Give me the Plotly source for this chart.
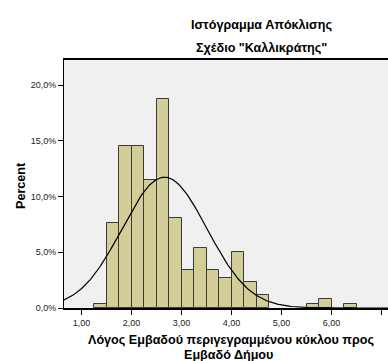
import numpy as np
import plotly.graph_objects as go

# bin centres (width 0.25) and percent of cases per bin
bin_centers = [1.375, 1.625, 1.875, 2.125, 2.375, 2.625, 2.875, 3.125, 3.375,
               3.625, 3.875, 4.125, 4.375, 4.625, 5.625, 5.875, 6.375]
percents = [0.38, 7.66, 14.56, 14.56, 11.49, 18.77, 8.05, 3.45, 5.36,
            3.45, 2.68, 4.98, 2.30, 1.15, 0.38, 0.77, 0.38]
bin_width = 0.25

# fitted normal curve
mean = 2.66
sd = 0.85

x_ticks = [1, 2, 3, 4, 5, 6, 7]
x_labels = ["1,00", "2,00", "3,00", "4,00", "5,00", "6,00", "7,00"]
y_ticks = [0, 5, 10, 15, 20]
y_labels = ["0,0%", "5,0%", "10,0%", "15,0%", "20,0%"]

font = "Liberation Sans, Arial, sans-serif"

curve_x = np.linspace(0.65, 7.13, 300)
curve_y = 100 * bin_width / (sd * np.sqrt(2 * np.pi)) * np.exp(-0.5 * ((curve_x - mean) / sd) ** 2)

fig = go.Figure()
fig.add_trace(go.Bar(
    x=bin_centers, y=percents, width=bin_width,
    marker=dict(color="#D3CE97", line=dict(color="#3a3a3a", width=1)),
))
fig.add_trace(go.Scatter(
    x=curve_x, y=curve_y, mode="lines",
    line=dict(color="black", width=1.2),
))

W, L, T, B = 388, 64, 60, 53
pw, ph = W - L, 361 - T - B


def px(x):
    return (x - L) / pw


def py(y):
    return (361 - B - y) / ph


fig.update_layout(
    width=388, height=361,
    margin=dict(l=L, r=0, t=T, b=B),
    paper_bgcolor="white",
    plot_bgcolor="#F0F0F0",
    showlegend=False,
    font=dict(family=font, size=9, color="#222"),
    bargap=0,
)
fig.update_xaxes(
    range=[0.65, 7.13], tickvals=x_ticks, ticktext=x_labels,
    ticks="outside", ticklen=5, tickcolor="black",
    showline=True, linecolor="black", linewidth=1.7, mirror=True,
    showgrid=False, zeroline=False,
)
fig.update_yaxes(
    range=[0, 22.25], tickvals=y_ticks, ticktext=y_labels,
    ticks="outside", ticklen=5, tickcolor="black",
    showline=True, linecolor="black", linewidth=1,
    showgrid=False, zeroline=False,
)

title_font = dict(size=12.6, family=font, color="black")
texts = [
    ("<b>Ιστόγραμμα Απόκλισης</b>", 261, 25, 0),
    ("<b>Σχέδιο \"Καλλικράτης\"</b>", 261, 48, 0),
    ("<b>Percent</b>", 21, 186, -90),
    ("<b>Λόγος Εμβαδού περιγεγραμμένου κύκλου προς</b>", 231, 340, 0),
    ("<b>Εμβαδό Δήμου</b>", 228, 355, 0),
]
for text, x, y, angle in texts:
    fig.add_annotation(text=text, xref="paper", yref="paper",
                       x=px(x), y=py(y), xanchor="center", yanchor="middle",
                       showarrow=False, textangle=angle, font=title_font)

fig.write_html("out.html", config={"displayModeBar": False},
               post_script="document.body.style.margin='0';")
